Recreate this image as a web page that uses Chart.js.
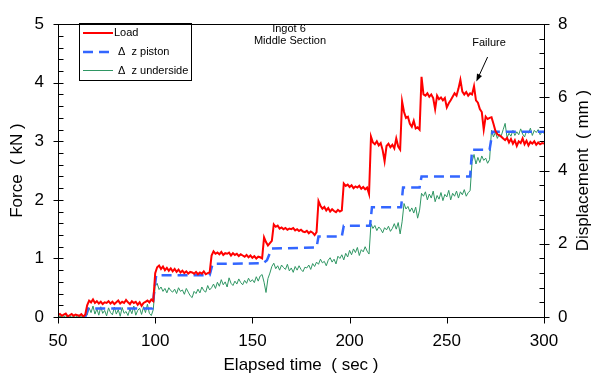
<!DOCTYPE html>
<html>
<head>
<meta charset="utf-8">
<script src="https://cdn.jsdelivr.net/npm/chart.js@4.4.1/dist/chart.umd.min.js"></script>
<style>
  html, body { margin: 0; padding: 0; background: #fff; }
  #wrap { width: 594px; height: 375px; }
</style>
</head>
<body>
<div id="wrap"><canvas id="chart" width="594" height="375"></canvas></div>
<script>
// samples are 1 s apart, first one at t = 50 s
const startTime = 50;

// Load, kN (left axis)
const loadKN = [
  0.03,0.05,0.02,0.04,0.06,0.01,0.03,0.05,0.02,0.04,
  0.03,0.02,0.05,0.01,0.04,0.20,0.28,0.25,0.30,0.24,
  0.27,0.23,0.26,0.22,0.25,0.24,0.27,0.23,0.26,0.22,
  0.25,0.28,0.23,0.26,0.24,0.29,0.25,0.22,0.27,0.24,
  0.26,0.21,0.25,0.19,0.24,0.26,0.28,0.25,0.30,0.27,
  0.75,0.85,0.88,0.82,0.86,0.80,0.84,0.79,0.83,0.78,
  0.82,0.77,0.81,0.76,0.79,0.75,0.78,0.74,0.77,0.76,
  0.74,0.77,0.73,0.76,0.74,0.78,0.73,0.75,0.76,1.05,
  1.12,1.08,1.10,1.07,1.11,1.06,1.09,1.08,1.10,1.05,
  1.09,1.06,1.08,1.04,1.07,1.05,1.03,1.06,1.02,1.05,
  1.01,1.04,1.00,1.03,1.02,1.00,1.36,1.28,1.22,1.26,
  1.30,1.58,1.54,1.56,1.51,1.53,1.50,1.52,1.49,1.51,
  1.50,1.52,1.48,1.50,1.47,1.49,1.46,1.45,1.47,1.43,
  1.46,1.44,1.40,1.45,1.98,1.90,1.85,1.88,1.82,1.86,
  1.80,1.84,1.81,1.79,1.83,1.80,1.82,2.28,2.24,2.26,
  2.22,2.25,2.20,2.23,2.21,2.24,2.19,2.22,2.18,2.21,
  2.10,3.08,2.98,2.95,3.00,2.93,2.97,2.85,2.66,2.92,
  2.96,2.90,2.94,2.88,3.05,2.91,2.86,3.68,3.50,3.40,
  3.42,3.30,3.25,3.35,3.22,3.24,3.20,4.10,3.80,3.78,
  3.82,3.76,3.80,3.74,3.55,3.78,3.72,3.75,3.70,3.74,
  3.58,3.65,3.70,3.76,3.82,3.78,3.90,4.05,3.85,3.80,
  3.84,3.78,3.82,3.80,3.94,3.70,3.66,3.55,3.50,3.20,
  3.42,3.38,3.40,3.41,3.30,3.18,3.12,3.10,3.08,3.05,
  3.02,3.06,2.98,3.04,2.96,3.02,2.92,3.00,2.97,3.05,
  2.95,3.01,2.93,2.99,2.96,3.00,2.94,2.98,2.95,2.97,
  2.96
];

// delta z underside, mm (right axis)
const undersideMm = [
  0.00,0.02,0.00,0.01,0.03,0.00,0.02,0.00,0.01,0.00,
  0.02,0.00,0.01,0.00,0.02,0.05,0.25,0.12,0.30,0.08,
  0.22,0.05,0.28,0.10,0.18,0.03,0.25,0.12,0.06,0.27,
  0.08,0.20,0.02,0.26,0.10,0.15,0.04,0.22,0.09,0.30,
  0.05,0.18,0.24,0.07,0.28,0.12,0.35,0.10,0.04,0.20,
  0.85,0.92,0.75,0.82,0.70,0.78,0.66,0.80,0.72,0.68,
  0.76,0.64,0.80,0.70,0.74,0.62,0.78,0.68,0.58,0.53,
  0.70,0.64,0.76,0.66,0.82,0.72,0.68,0.86,0.74,0.80,
  0.90,0.78,0.95,0.84,1.02,0.88,0.96,0.82,1.07,0.92,
  0.86,0.98,0.90,1.04,0.94,0.88,1.00,0.92,1.06,0.96,
  1.02,0.94,1.10,0.98,1.12,1.16,0.95,0.67,1.05,1.20,
  1.38,1.47,1.32,1.40,1.28,1.42,1.35,1.30,1.44,1.26,
  1.34,1.22,1.38,1.28,1.40,1.30,1.24,1.36,1.34,1.42,
  1.30,1.46,1.38,1.50,1.44,1.58,1.48,1.52,1.40,1.55,
  1.62,1.50,1.58,1.45,1.66,1.60,1.70,1.56,1.74,1.64,
  1.82,1.70,1.86,1.76,1.90,1.68,1.84,1.78,1.92,1.80,
  1.72,2.55,2.42,2.50,2.36,2.46,2.40,2.30,2.44,2.38,
  2.48,2.34,2.42,2.55,2.40,2.58,2.27,2.60,3.10,2.95,
  3.02,2.88,2.98,2.84,3.00,2.70,2.92,3.38,3.30,3.42,
  3.20,3.36,3.25,3.44,3.15,3.32,3.22,3.40,3.18,3.35,
  3.28,3.46,3.20,3.38,3.30,3.44,3.25,3.42,3.34,3.48,
  3.30,3.40,3.45,4.25,4.44,4.18,4.36,4.22,4.40,4.28,
  4.34,4.20,4.30,5.10,4.92,5.05,4.88,5.00,4.95,5.12,
  5.29,4.90,5.02,4.94,5.10,4.96,5.06,4.98,5.14,5.00,
  4.92,5.08,5.02,5.16,4.96,5.10,5.04,5.12,4.98,5.06,
  5.02
];

// delta z piston: stepped trace, corner points (s, mm)
const pistonTime = [64, 65.5, 98.5, 100.5, 128, 129.5, 155.5, 157.5, 159, 160, 183, 184, 196, 197, 210.5, 211.5, 226.5, 227.5, 236, 237, 262, 263, 272, 273.5, 300];
const pistonMm   = [0.00, 0.23, 0.23, 1.14, 1.14, 1.45, 1.47, 1.55, 1.75, 1.87, 1.90, 2.20, 2.20, 2.49, 2.49, 3.00, 3.00, 3.54, 3.54, 3.84, 3.84, 4.57, 4.57, 5.06, 5.06];

const seriesNames = ['Load', '\u0394  z piston', '\u0394  z underside'];
const rightTitle = 'Displacement  ( mm )';
const noteLines = ['Ingot 6', 'Middle Section'];
const failureLabel = 'Failure';
const failurePoint = { t: 265.2, kN: 4.02 };   // arrow tip
const failureTail  = { t: 271, kN: 4.44 };

const FONT = '"Liberation Sans", Arial, sans-serif';
const RED = '#ff0000', BLUE = '#3366ff', GREEN = '#2f9663';

function toPoints(vals){ return vals.map((v, i) => ({ x: startTime + i, y: v })); }
const pistonPts = pistonTime.map((t, i) => ({ x: t, y: pistonMm[i] }));

// frame, tick marks, legend box, right title and notes
const decorations = {
  id: 'decorations',
  afterDraw(chart){
    const { ctx, chartArea: a, scales: { x, y, y2 } } = chart;
    const L = Math.round(a.left) + 0.5, R = Math.round(a.right) + 0.5;
    const T = Math.round(a.top) + 0.5, B = Math.round(a.bottom) + 0.5;
    ctx.save();
    ctx.strokeStyle = '#000'; ctx.lineWidth = 1;
    ctx.strokeRect(L, T, R - L, B - T);
    ctx.beginPath();
    for(let v = 0; v <= 5.001; v += 0.2){
      const py = Math.round(y.getPixelForValue(v)) + 0.5;
      const major = Math.abs(v - Math.round(v)) < 1e-6;
      ctx.moveTo(major ? L - 5 : L, py); ctx.lineTo(L + 5, py);
    }
    for(let v = 0; v <= 8.001; v += 0.4){
      const py = Math.round(y2.getPixelForValue(v)) + 0.5;
      const major = Math.abs(v / 2 - Math.round(v / 2)) < 1e-6;
      ctx.moveTo(major ? R + 5 : R, py); ctx.lineTo(R - 5, py);
    }
    for(let v = 50; v <= 300; v += 50){
      const px = Math.round(x.getPixelForValue(v)) + 0.5;
      ctx.moveTo(px, B); ctx.lineTo(px, B + 6);
    }
    ctx.stroke();

    // right axis title, reading bottom to top
    ctx.save();
    ctx.translate(583, (a.top + a.bottom) / 2);
    ctx.rotate(-Math.PI / 2);
    ctx.font = '17px ' + FONT;
    ctx.fillStyle = '#000';
    ctx.textAlign = 'center';
    ctx.textBaseline = 'middle';
    ctx.fillText(rightTitle, 0, 0);
    ctx.restore();

    // legend
    const lx = 79.5, ly = 23.5;
    ctx.strokeRect(lx, ly, 112, 57);
    const rows = [
      { c: RED, w: 2, dash: [], y: 33 },
      { c: BLUE, w: 2.5, dash: [10, 6], y: 52 },
      { c: GREEN, w: 1, dash: [], y: 70.5 }
    ];
    ctx.font = '11px ' + FONT;
    ctx.textBaseline = 'middle';
    ctx.textAlign = 'left';
    rows.forEach((r, i) => {
      ctx.beginPath();
      ctx.strokeStyle = r.c; ctx.lineWidth = r.w; ctx.setLineDash(r.dash);
      ctx.moveTo(83, r.y); ctx.lineTo(113, r.y); ctx.stroke();
      ctx.setLineDash([]);
      ctx.fillStyle = '#000';
      ctx.fillText(seriesNames[i], i === 0 ? 114 : 118, r.y);
    });

    // notes
    ctx.font = '11px ' + FONT;
    ctx.textAlign = 'center';
    ctx.textBaseline = 'alphabetic';
    ctx.fillText(noteLines[0], 289, 32);
    ctx.fillText(noteLines[1], 290, 44);
    ctx.fillText(failureLabel, 489, 46);

    // failure arrow
    const tx = x.getPixelForValue(failurePoint.t), ty = y.getPixelForValue(failurePoint.kN);
    const sx = x.getPixelForValue(failureTail.t), sy = y.getPixelForValue(failureTail.kN);
    const ang = Math.atan2(ty - sy, tx - sx);
    ctx.strokeStyle = '#000'; ctx.lineWidth = 1;
    ctx.beginPath(); ctx.moveTo(sx, sy); ctx.lineTo(tx - 5 * Math.cos(ang), ty - 5 * Math.sin(ang)); ctx.stroke();
    ctx.beginPath();
    ctx.moveTo(tx, ty);
    ctx.lineTo(tx - 8 * Math.cos(ang - 0.35), ty - 8 * Math.sin(ang - 0.35));
    ctx.lineTo(tx - 8 * Math.cos(ang + 0.35), ty - 8 * Math.sin(ang + 0.35));
    ctx.closePath(); ctx.fillStyle = '#000'; ctx.fill();
    ctx.restore();
  }
};

const tickFont = { family: FONT, size: 17 };
const titleFont = { family: FONT, size: 17 };

new Chart(document.getElementById('chart'), {
  type: 'line',
  data: {
    datasets: [
      { label: seriesNames[0], data: toPoints(loadKN), yAxisID: 'y', borderColor: RED, borderWidth: 2, order: 0 },
      { label: seriesNames[1], data: pistonPts, yAxisID: 'y2', borderColor: BLUE, borderWidth: 2.5, borderDash: [10, 6], order: 1 },
      { label: seriesNames[2], data: toPoints(undersideMm), yAxisID: 'y2', borderColor: GREEN, borderWidth: 1, order: 2 }
    ]
  },
  options: {
    responsive: false,
    animation: false,
    elements: { point: { radius: 0 }, line: { tension: 0, fill: false } },
    layout: { padding: { top: 16, left: 0, right: 0, bottom: 0 } },
    plugins: { legend: { display: false }, tooltip: { enabled: false } },
    scales: {
      x: {
        type: 'linear', position: 'bottom', min: 50, max: 300,
        ticks: { stepSize: 50, font: tickFont, color: '#000', padding: 14, maxRotation: 0 },
        grid: { display: false, drawTicks: false },
        border: { display: false },
        title: { display: true, text: 'Elapsed time  ( sec )', font: titleFont, color: '#000', padding: { top: 0, bottom: -1 } },
        afterFit: s => { s.height = 58; }
      },
      y: {
        position: 'left', min: 0, max: 5,
        ticks: { stepSize: 1, font: tickFont, color: '#000', padding: 14 },
        grid: { display: false, drawTicks: false },
        border: { display: false },
        title: { display: true, text: 'Force  ( kN )', font: titleFont, color: '#000', padding: { top: 7, bottom: 0 } },
        afterFit: s => { s.width = 58; }
      },
      y2: {
        position: 'right', min: 0, max: 8,
        ticks: { stepSize: 2, font: tickFont, color: '#000', padding: 14 },
        grid: { display: false, drawTicks: false },
        border: { display: false },
        title: { display: false },
        afterFit: s => { s.width = 50; }
      }
    }
  },
  plugins: [decorations]
});
</script>
</body>
</html>
